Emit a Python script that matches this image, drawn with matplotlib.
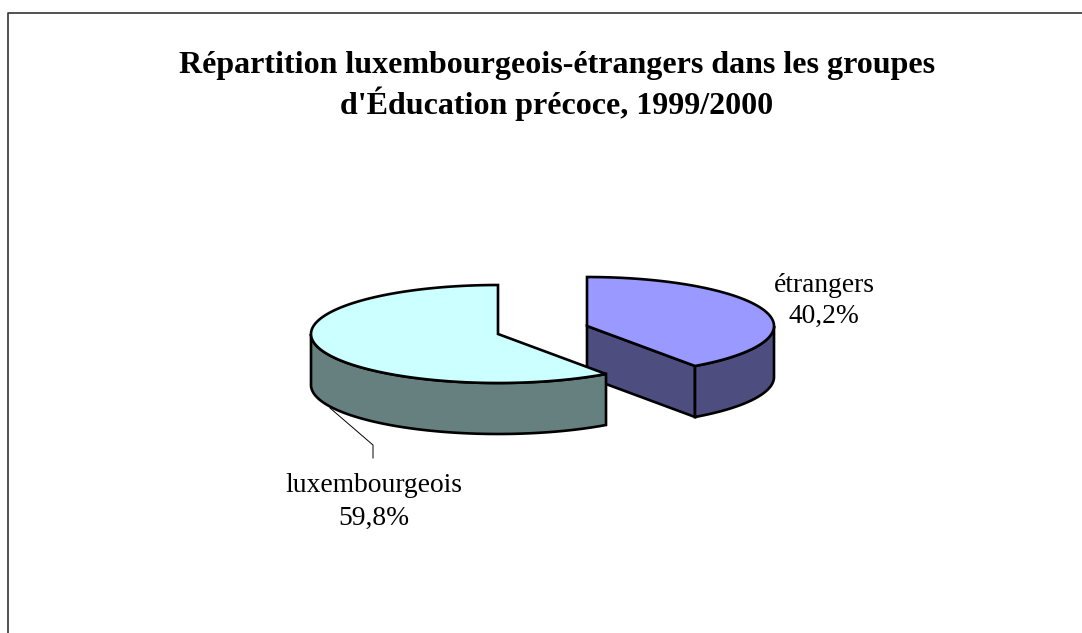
import numpy as np
import matplotlib
matplotlib.use("Agg")
import matplotlib.pyplot as plt
from matplotlib.patches import Polygon

plt.rcParams['font.family'] = ['Liberation Serif', 'DejaVu Serif']

title = "Répartition luxembourgeois-étrangers dans les groupes\nd'Éducation précoce, 1999/2000"
names = ["luxembourgeois", "étrangers"]
shares = [59.8, 40.2]
labels = ["59,8%", "40,2%"]

top_colors = ["#CCFFFF", "#9999FF"]
side_colors = ["#668080", "#4D4D80"]

RX, RY, DEPTH = 187, 49, 51
LW = 1.9


def ring(cx, cy, a0, a1):
    # points on the ellipse between two pie angles (degrees)
    t = np.radians(np.linspace(a0, a1, 120))
    return np.column_stack([cx + RX * np.cos(t), cy - RY * np.sin(t)])


def wall(ax, cx, cy, a0, a1, color):
    # rim wall between two angles, only used on the side facing the viewer
    arc = ring(cx, cy, a0, a1)
    pts = np.vstack([arc, (arc + [0, DEPTH])[::-1]])
    ax.add_patch(Polygon(pts, fc=color, ec='black', lw=LW))


fig = plt.figure(figsize=(10.82, 6.33), dpi=100)
ax = fig.add_axes([0, 0, 1, 1])
ax.set_xlim(0, 1082)
ax.set_ylim(633, 0)
ax.axis('off')

# chart frame, runs off the picture at the right and the bottom
ax.plot([7.5, 7.5, 1082], [633, 13, 13], color='#333333', lw=1.2)

ax.text(557, 86, title, ha='center', va='center', fontsize=23.0, fontweight='bold',
        color='black', linespacing=1.25)

# etrangers first, it sits behind the other slice
sweep = shares[1] / sum(shares) * 360
cx, cy = 587, 326
a0, a1 = 90 - sweep, 90
end = ring(cx, cy, a0, a0)[0]
ax.add_patch(Polygon([[cx, cy], [cx, cy + DEPTH], [end[0], end[1] + DEPTH], end],
                     fc=side_colors[1], ec='black', lw=LW))
wall(ax, cx, cy, a0, 0, side_colors[1])
rim = ring(cx, cy, a0, a1)
ax.add_patch(Polygon(np.vstack([[[cx, cy]], rim]), fc=top_colors[1], ec='black', lw=LW))

# luxembourgeois
sweep = shares[0] / sum(shares) * 360
cx, cy = 498, 334
a0, a1 = 90, 90 + sweep
wall(ax, cx, cy, 180, a1, side_colors[0])
rim = ring(cx, cy, a0, a1)
ax.add_patch(Polygon(np.vstack([[[cx, cy]], rim]), fc=top_colors[0], ec='black', lw=LW))

# leader line
ax.plot([330, 373, 373], [408, 445, 458], color='black', lw=0.7)

ax.text(374, 502, names[0] + "\n" + labels[0], ha='center', va='center', fontsize=19.8, linespacing=1.42)
ax.text(824, 301, names[1] + "\n" + labels[1], ha='center', va='center', fontsize=19.8, linespacing=1.27)

fig.savefig("out.png", dpi=100)
